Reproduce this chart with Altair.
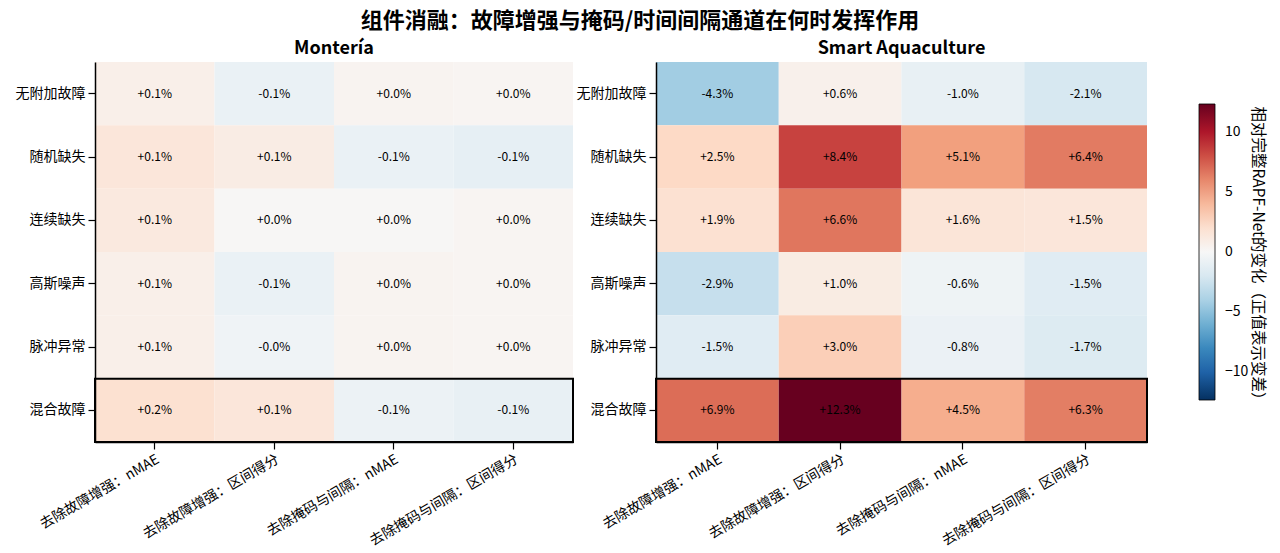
import altair as alt
import pandas as pd

FONT = "Noto Sans CJK SC"

rows = ["无附加故障", "随机缺失", "连续缺失", "高斯噪声", "脉冲异常", "混合故障"]
cols = ["去除故障增强：nMAE", "去除故障增强：区间得分", "去除掩码与间隔：nMAE", "去除掩码与间隔：区间得分"]

monteria = [
    [0.06, -0.07, 0.03, 0.02],
    [0.12, 0.08, -0.07, -0.09],
    [0.10, 0.01, 0.01, 0.02],
    [0.06, -0.07, 0.03, 0.02],
    [0.06, -0.04, 0.03, 0.02],
    [0.16, 0.12, -0.06, -0.08],
]
aquaculture = [
    [-4.3, 0.6, -1.0, -2.1],
    [2.5, 8.4, 5.1, 6.4],
    [1.9, 6.6, 1.6, 1.5],
    [-2.9, 1.0, -0.6, -1.5],
    [-1.5, 3.0, -0.8, -1.7],
    [6.9, 12.3, 4.5, 6.3],
]
highlight_rows = ["混合故障"]
legend_ticks = [-10, -5, 0, 5, 10]
legend_title = ["相对完整RAPF-Net的变化（正值表示变差）"]

# diverging palette (blue -> white -> red), RdBu style
PALETTE = ["#053061", "#2166ac", "#4393c3", "#92c5de", "#d1e5f0", "#f7f7f7",
           "#fddbc7", "#f4a582", "#d6604d", "#b2182b", "#67001f"]


def make_df(values):
    recs = []
    for r, rv in zip(rows, values):
        for c, v in zip(cols, rv):
            recs.append({"row": r, "col": c, "value": v, "label": f"{v:+.1f}%"})
    return pd.DataFrame(recs)


def color_scale(dom):
    n = len(PALETTE) - 1
    stops = [-dom + 2 * dom * i / n for i in range(n + 1)]
    return alt.Scale(domain=stops, range=PALETTE, interpolate="rgb")


def panel(values, title, dom, width, legend, extra=None):
    df = make_df(values)
    base = alt.Chart(df)
    x = alt.X("col:N", sort=cols, title=None,
              axis=alt.Axis(labelAngle=330, labelAlign="right", labelBaseline="top",
                            labelFontSize=14, labelPadding=3, tickSize=7))
    y = alt.Y("row:N", sort=rows, title=None,
              axis=alt.Axis(labelFontSize=14, labelPadding=3, tickSize=7))
    color = alt.Color("value:Q", scale=color_scale(dom), legend=legend)
    rect = base.mark_rect().encode(x=x, y=y, color=color)
    text = base.mark_text(fontSize=12, color="black", font=FONT).encode(
        x=alt.X("col:N", sort=cols), y=alt.Y("row:N", sort=rows), text="label:N")
    hl = alt.Chart(pd.DataFrame({"row": highlight_rows})).mark_rect(
        fillOpacity=0, stroke="black", strokeWidth=2).encode(
        y=alt.Y("row:N", sort=rows), x=alt.value(0), x2=alt.value(width))
    layers = [rect, text, hl]
    if extra is not None:
        layers.append(extra)
    return alt.layer(*layers).properties(
        width=width, height=380,
        title=alt.TitleParams(title, fontSize=18, fontWeight="bold", font=FONT, offset=4))


legend = alt.Legend(
    title=None, gradientLength=296, gradientThickness=16, values=legend_ticks,
    labelFontSize=14, orient="none", legendX=543, legendY=42, direction="vertical",
    labelOffset=10, gradientStrokeColor="black", gradientStrokeWidth=0.8)

ltitle = alt.Chart(pd.DataFrame({"t": legend_title})).mark_text(
    angle=90, fontSize=15.5, font=FONT, color="black", align="center", baseline="middle"
).encode(text="t:N", x=alt.value(602), y=alt.value(195))

left = panel(monteria, "Montería", 1.0, 478, None)
right = panel(aquaculture, "Smart Aquaculture", 12.3, 491, legend, ltitle)

chart = alt.hconcat(left, right, spacing=2).resolve_scale(color="independent").properties(
    title=alt.TitleParams("组件消融：故障增强与掩码/时间间隔通道在何时发挥作用",
                          fontSize=22, fontWeight="bold", anchor="middle", font=FONT, offset=7),
    padding={"left": 7, "top": 2, "right": 5, "bottom": 5}
).configure(font=FONT).configure_view(strokeWidth=0).configure_axis(
    domainColor="black", tickColor="black", labelColor="black", grid=False,
    domainWidth=1.5, tickWidth=1.2, labelFont=FONT
).configure_legend(labelFont=FONT, titleFont=FONT, labelColor="black", titleColor="black")

chart.save("out.html", embed_options={"renderer": "svg", "actions": False})
